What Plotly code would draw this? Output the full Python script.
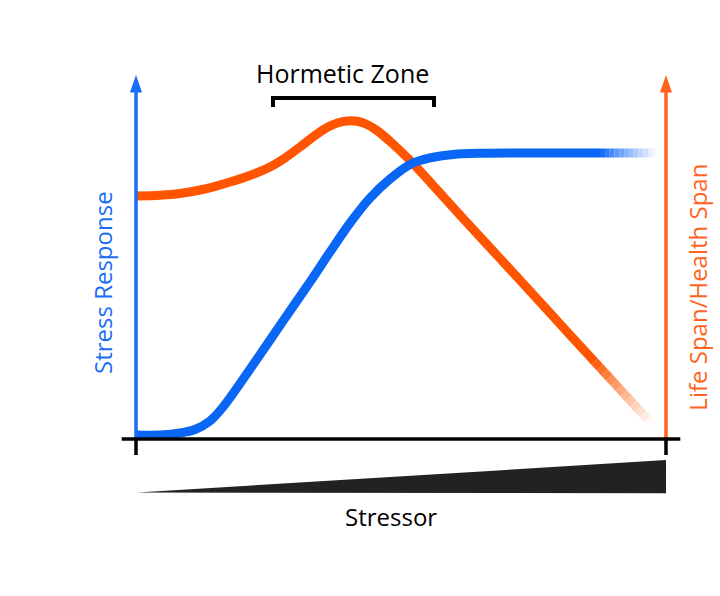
import plotly.graph_objects as go

# ---- data (stressor units 0..10, response units 0..10) ----
stress_x = [0.0, 0.453, 0.830, 1.113, 1.396, 1.642, 2.283, 2.774, 3.283, 3.660, 4.038,
            4.415, 4.792, 5.189, 5.547, 5.981, 6.491, 7.245, 8.0, 8.755]
stress_y = [0.110, 0.110, 0.165, 0.261, 0.495, 0.879, 2.198, 3.242, 4.313, 5.137, 5.934,
            6.621, 7.143, 7.555, 7.720, 7.816, 7.849, 7.857, 7.857, 7.857]
stress_fade_x = [8.755, 8.85, 8.94, 9.03, 9.12, 9.21, 9.30, 9.39, 9.48, 9.57, 9.66, 9.75, 9.83]
stress_fade_y = [7.857] * 13

life_x = [0.0, 0.453, 0.830, 1.302, 1.774, 2.151, 2.528, 2.811, 3.094, 3.377, 3.623, 3.811,
          3.981, 4.170, 4.358, 4.547, 4.849, 5.189, 5.736, 6.302, 6.868, 7.623, 8.189, 8.66]
life_y = [6.676, 6.698, 6.745, 6.868, 7.060, 7.239, 7.473, 7.720, 8.022, 8.338, 8.571, 8.687,
          8.736, 8.728, 8.640, 8.475, 8.104, 7.624, 6.758, 5.852, 4.959, 3.764, 2.857, 2.115]
life_fade_x = [8.66, 8.75, 8.84, 8.93, 9.02, 9.11, 9.20, 9.29, 9.38, 9.47, 9.56, 9.65, 9.74]
life_fade_y = [2.115, 1.972, 1.829, 1.687, 1.544, 1.401, 1.258, 1.115, 0.972, 0.830,
               0.687, 0.544, 0.401]

zone_x = [2.585, 5.623]         # hormetic zone bracket extent
stressor_wedge_x = [0.0, 10.0]  # stressor ramp

BLUE = (10, 102, 245)
ORANGE = (255, 85, 0)
LW = 9


def rgb(c):
    return "rgb(%d,%d,%d)" % c


def lerp_white(c, t):
    return tuple(round(v + (255 - v) * t) for v in c)


fig = go.Figure()

# main curves
fig.add_trace(go.Scatter(x=life_x, y=life_y, mode="lines",
                         line=dict(color=rgb(ORANGE), width=LW, shape="spline", smoothing=0.9),
                         hoverinfo="skip"))
fig.add_trace(go.Scatter(x=stress_x, y=stress_y, mode="lines",
                         line=dict(color=rgb(BLUE), width=LW, shape="spline", smoothing=0.9),
                         hoverinfo="skip"))


# fading tails
def add_fade(xs, ys, col):
    n = len(xs) - 1
    for i in range(n):
        t = (i + 0.5) / n
        fig.add_trace(go.Scatter(x=xs[i:i + 2], y=ys[i:i + 2], mode="lines",
                                 line=dict(color=rgb(lerp_white(col, min(1.0, t ** 0.9))), width=LW),
                                 hoverinfo="skip"))


add_fade(stress_fade_x, stress_fade_y, BLUE)
add_fade(life_fade_x, life_fade_y, ORANGE)

shapes = []
AX_BLUE = "rgb(25,110,245)"
AX_OR = "rgb(255,100,30)"
# left axis + arrowhead
shapes.append(dict(type="line", x0=0, x1=0, y0=0, y1=9.6, xref="x", yref="y",
                   line=dict(color=AX_BLUE, width=3.5)))
shapes.append(dict(type="path", path="M -0.115 9.52 L 0 10 L 0.115 9.52 Z",
                   fillcolor=AX_BLUE, line=dict(width=0), xref="x", yref="y"))
# right axis + arrowhead
shapes.append(dict(type="line", x0=10, x1=10, y0=0, y1=9.6, xref="x", yref="y",
                   line=dict(color=AX_OR, width=3.5)))
shapes.append(dict(type="path", path="M 9.885 9.52 L 10 10 L 10.115 9.52 Z",
                   fillcolor=AX_OR, line=dict(width=0), xref="x", yref="y"))
# x axis
shapes.append(dict(type="line", x0=-0.27, x1=10.27, y0=0, y1=0, xref="x", yref="y",
                   line=dict(color="black", width=3.5)))
for xt in [0, 10]:
    shapes.append(dict(type="line", x0=xt, x1=xt, y0=0, y1=-0.44, xref="x", yref="y",
                       line=dict(color="black", width=3.5)))
# stressor wedge
w0, w1 = stressor_wedge_x
shapes.append(dict(type="path",
                   path=f"M {w0+0.02} -1.47 L {w1} -0.58 L {w1} -1.49 Z",
                   fillcolor="#222222", line=dict(width=0), xref="x", yref="y"))
# hormetic zone bracket
z0, z1 = zone_x
shapes.append(dict(type="path",
                   path=f"M {z0} 9.12 L {z0} 9.37 L {z1} 9.37 L {z1} 9.12",
                   line=dict(color="black", width=4), xref="x", yref="y"))

annotations = [
    dict(x=3.89, y=10.05, text="Hormetic Zone", showarrow=False,
         font=dict(family="Open Sans", size=25, color="black"), xref="x", yref="y"),
    dict(x=4.82, y=-2.14, text="Stressor", showarrow=False,
         font=dict(family="Open Sans", size=24, color="black"), xref="x", yref="y"),
    dict(x=-0.62, y=4.29, text="Stress Response", showarrow=False, textangle=-90,
         font=dict(family="Open Sans", size=24, color=AX_BLUE), xref="x", yref="y"),
    dict(x=10.60, y=4.18, text="Life Span/Health Span", showarrow=False, textangle=-90,
         font=dict(family="Open Sans", size=24, color=AX_OR), xref="x", yref="y"),
]

fig.update_layout(
    width=720, height=596,
    margin=dict(l=0, r=0, t=0, b=0),
    paper_bgcolor="white", plot_bgcolor="white",
    showlegend=False,
    xaxis=dict(range=[-2.566, 11.019], visible=False, fixedrange=True),
    yaxis=dict(range=[-4.313, 12.06], visible=False, fixedrange=True),
    shapes=shapes,
    annotations=annotations,
)

fig.write_html("out.html", config={"displayModeBar": False},
               post_script="document.body.style.margin='0';document.body.style.padding='0';")
